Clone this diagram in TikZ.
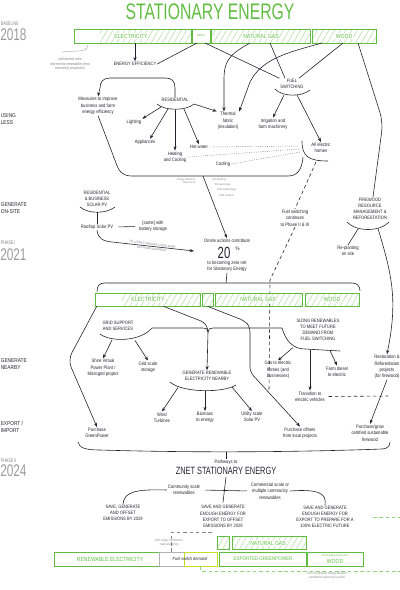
\documentclass[tikz,border=0pt]{standalone}
\usepackage{fontspec}
\setmainfont{Liberation Sans}[FakeStretch=0.85]
\newfontfamily\condfont{Liberation Sans}[FakeStretch=0.7]
\usetikzlibrary{arrows.meta,fit,patterns.meta}
\definecolor{znetgreen}{RGB}{97,189,66}
\definecolor{hatchgreen}{RGB}{165,218,145}
\definecolor{limegreen}{RGB}{196,222,40}
\definecolor{ink}{RGB}{35,35,48}
\definecolor{notegray}{RGB}{130,130,135}

\begin{document}
\begin{tikzpicture}[x=0.05cm, y=-0.05cm, color=ink, line width=0.85pt,
  lbl/.style={align=center, font=\fontsize{7}{9}\selectfont, inner sep=1pt},
  caps/.style={lbl, font=\fontsize{6.8}{8.8}\selectfont},
  note/.style={align=center, font=\fontsize{4.5}{5.4}\selectfont\itshape, text=notegray, inner sep=0.5pt},
  side/.style={anchor=west, align=left, font=\fontsize{8}{9.5}\selectfont, inner sep=0pt},
  year/.style={anchor=west, font=\condfont\fontsize{24}{24}\selectfont, text=notegray!80, inner sep=0pt},
  phase/.style={anchor=west, font=\condfont\fontsize{7.5}{8}\selectfont, text=notegray, inner sep=0pt},
  bar/.style={draw=znetgreen, line width=0.9pt, inner sep=0pt},
  hatch/.style={pattern={Lines[angle=60,distance=7pt,line width=0.6pt]}, pattern color=hatchgreen},
  bartext/.style={font=\fontsize{8.5}{9}\selectfont, text=znetgreen, fill=white, inner sep=1pt},
  arr/.style={-{Stealth[length=6pt,width=4.5pt]}},
  dots/.style={dotted, line width=0.6pt},
  dashline/.style={dash pattern=on 5pt off 4pt}]
\useasboundingbox (0,0) rectangle (400,590);

% title and phases
\node[font=\condfont\fontsize{32}{32}\selectfont, text=znetgreen, inner sep=0pt] (title) at (210,12) {STATIONARY ENERGY};
\node[phase] (base) at (0.5,24) {BASELINE};
\node[year] (y18) at (0,35) {2018};
\node[side] (useless) at (0.5,119) {USING\\LESS};
\node[side] (genon) at (0.5,208) {GENERATE\\ON-SITE};
\node[phase] (ph1) at (0.5,243) {PHASE I};
\node[year] (y21) at (0,255) {2021};
\node[side] (gennear) at (0.5,364) {GENERATE\\NEARBY};
\node[side] (expimp) at (0.5,427) {EXPORT /\\IMPORT};
\node[phase] (ph2) at (0.5,461) {PHASE II};
\node[year] (y24) at (0,471) {2024};

% baseline bar
\fill[hatch] (100,29) rectangle (191,43);
\fill[hatch] (211,29) rectangle (310,43);
\fill[hatch] (312,29) rectangle (376,43);
\node[bar, fit={(74,29) (191,43)}] (tElec) {};
\node[bar, fit={(192,29) (210,43)}] (tDiesel) {};
\node[bar, fit={(211,29) (310,43)}] (tGas) {};
\node[bar, fit={(312,29) (376,43)}] (tWood) {};
\node[bartext] (tElecL) at (131,36) {ELECTRICITY};
\node[bartext, font=\fontsize{4}{4}\selectfont] (tDieselL) at (tDiesel) {DIESEL};
\node[bartext] (tGasL) at (261,36) {NATURAL GAS};
\node[bartext] (tWoodL) at (344,36) {WOOD};
\node[note, font=\fontsize{5.5}{6.2}\selectfont\itshape] (unhatch) at (70,64) {Unhatched area\\represents renewable (zero\\emission) proportion};
\coordinate (uh) at (88,45);
\draw[notegray, line width=0.4pt] (uh) .. controls (87,50) and (84,51) .. (76,51) -- (62,52);

% using less
\node[caps] (effic) at (135,64) {ENERGY EFFICIENCY};
\node[lbl] (measures) at (98,106) {Measures to improve\\business and farm\\energy efficiency};
\node[caps] (res) at (175,100) {RESIDENTIAL};
\node[lbl] (light) at (134,122) {Lighting};
\node[lbl] (appl) at (145,142) {Appliances};
\node[lbl] (heat) at (175,157) {Heating\\and Cooling};
\node[lbl] (hot) at (199,147) {Hot water};
\node[lbl] (cooling) at (223,164) {Cooling};
\node[lbl] (thermal) at (228,121) {Thermal\\fabric\\(insulation)};
\node[caps] (fuelsw) at (292,84) {FUEL\\SWITCHING};
\node[lbl] (irrig) at (273,124) {Irrigation and\\farm machinery};
\node[lbl] (allelec) at (321,148) {All electric\\homes};
\node[caps] (firewood) at (370,209) {FIREWOOD\\RESOURCE\\MANAGEMENT \&\\REFORESTATION};

\coordinate (dL) at (197,43);
\coordinate (dR) at (205,43);
\coordinate (gL) at (250,43);
\coordinate (gR) at (270,43);
\coordinate (wA) at (322,43);
\coordinate (wB) at (343,43);
\coordinate (wC) at (358,43);
\draw[arr] (effic |- tElec.south) -- (effic.north);
\draw (dL) -- (effic.east);
\draw (dR) -- (fuelsw.north west);
\draw[arr] (gL) .. controls (228,55) and (224,62) .. (224,80) -- ([xshift=-0.2cm]thermal.north);
\draw[arr] (wA) .. controls (290,52) and (262,58) .. (250,82) -- (thermal.north east);
\draw (gR) -- ([xshift=-0.35cm]fuelsw.north);
\draw (wB) -- ([xshift=0.35cm]fuelsw.north);
\draw[rounded corners=0.5cm] (wC) -- (383,122) -- ([xshift=0.15cm]firewood.north);

\draw[arr] (res.north) -- (175,88) .. controls (175,81) and (172,78) .. (165,78) -- (110,78) .. controls (103,78) and (100,82) .. (100,88) -- (measures.north);
\draw (157,104) .. controls (165,111) and (186,111) .. (194,104);
\coordinate (rA) at (161,107);
\coordinate (rB) at (168,109);
\coordinate (rC) at (175,109.5);
\coordinate (rD) at (184,109);
\coordinate (rE) at (194,104);
\draw[arr] (rA) -- (light.north east);
\draw[arr] (rB) -- ([xshift=0.25cm]appl.north);
\draw[arr] (rC) -- (heat.north);
\draw[arr] (rD) -- (hot.north);
\draw[arr] (rE) -- (thermal.north west);

\draw (275,89) .. controls (282,97) and (302,97) .. (310,90);
\coordinate (fsA) at (284,95);
\coordinate (fsB) at (297,95);
\draw[arr] (fsA) -- (irrig.north);
\draw[arr] (fsB) -- (allelec.north);
\draw (302,141) .. controls (302,156) and (308,161) .. (328,161);

\coordinate (ae1) at (300,146);
\coordinate (ae2) at (300,149);
\coordinate (ae3) at (300,152);
\draw[dots] (hot.east) -- (ae1);
\draw[dots] (heat.east) -- (ae2);
\draw[dots] (cooling.east) -- (ae3);

\draw (measures.south) -- (116,163) .. controls (119,172) and (123,176) .. (132,176) -- (288,176) .. controls (297,176) and (302,170) .. (303,157);
\node[note, align=right, anchor=east, font=\fontsize{4}{4.8}\selectfont\itshape] (effnote) at (196,181) {Energy efficiency\\reduction of};
\foreach \pctline [count=\i] in {8\% electricity, 5\% natural gas, 12\% wood energy, 23\% of diesel}
  \node[note, anchor=west, font=\fontsize{4}{4.8}\selectfont\itshape] (pct\i) at (209.5+2.3*\i, 175+5*\i) {\pctline};

% generate on-site
\node[caps] (solar) at (97,199) {RESIDENTIAL\\\& BUSINESS\\SOLAR PV};
\draw (80,207) .. controls (88,214) and (106,214) .. (115,207);
\coordinate (solarArc) at (97,212.3);
\node[lbl] (rooftop) at (97,227) {Rooftop Solar PV};
\node[lbl] (battery) at (153,226.5) {[same] with\\battery storage};
\draw (solarArc) -- (rooftop.north);
\draw[shorten <=6pt, shorten >=4pt] (rooftop.east) -- (battery.west);
\coordinate (pvEnd) at (194,251);
\draw[arr] (rooftop.south) .. controls (98,238) and (102,241) .. (112,242) -- (pvEnd);
\node[note, rotate=-7, font=\fontsize{4.8}{6.6}\selectfont\itshape] (pvnote) at (152,246.5) {7\% of ZNET stationary energy target\\from onsite renewables};

\node[lbl] (onsite) at (227,241) {Onsite actions contribute};
\node[font=\condfont\fontsize{23}{23}\selectfont, inner sep=0pt] (twenty) at (224,252.5) {20};
\node[font=\fontsize{7.5}{7.5}\selectfont, inner sep=0pt] (pcent) at (237.5,249) {\%};
\node[lbl] (zeronet) at (227,266.5) {to becoming zero net\\for Stationary Energy};
\coordinate (uArrow) at (203,176);
\draw[arr] (uArrow) -- (onsite.north);

\node[lbl] (fuelcont) at (295,218) {Fuel switching\\continues\\to Phase II \& III};
\coordinate (aeBot) at (316,162);
\coordinate (fcEnd) at (269,392);
\draw[dashline] (aeBot) -- (fuelcont.north);
\draw[dashline] (fuelcont.south) -- (270,280) -- (fcEnd);

\draw (347,222) .. controls (356,232) and (380,232) .. (389,222);
\coordinate (fw1) at (358,229);
\coordinate (fw2) at (378,228.5);
\node[lbl] (replant) at (348,251) {Re-planting\\on site};
\draw (fw1) -- (replant.north);

% phase I bracket
\coordinate (b1tick) at (226,283);
\draw (97,292) .. controls (97,286) and (99,283) .. (105,283) -- (352,283) .. controls (357,283) and (360,286) .. (360,291);
\draw (zeronet.south) -- (b1tick);

% phase I bar
\fill[hatch] (122,293) rectangle (200,306);
\fill[hatch] (202,293) rectangle (213,306);
\fill[hatch] (215,293) rectangle (302,306);
\fill[hatch] (305,293) rectangle (359,306);
\node[bar, fit={(95,293) (200,306)}] (mElec) {};
\node[bar, fit={(202,293) (213,306)}] (mDiesel) {};
\node[bar, fit={(215,293) (302,306)}] (mGas) {};
\node[bar, fit={(305,293) (359,306)}] (mWood) {};
\node[bartext] (mElecL) at (148,299.5) {ELECTRICITY};
\node[bartext] (mGasL) at (258,299.5) {NATURAL GAS};
\node[bartext] (mWoodL) at (332,299.5) {WOOD};

% generate nearby
\node[caps] (grid) at (118,325.5) {GRID SUPPORT\\AND SERVICES};
\node[lbl] (vpp) at (103,368) {Shire Virtual\\Power Plant /\\Microgrid project};
\node[lbl] (gridstor) at (148,367) {Grid scale\\storage};
\node[caps] (genren) at (207,376) {GENERATE RENEWABLE\\ELECTRICITY NEARBY};
\node[lbl] (wind) at (162,417.5) {Wind\\Turbines};
\node[lbl] (biomass) at (205,417.5) {Biomass\\to energy};
\node[lbl] (utility) at (252,417) {Utility scale\\Solar PV};
\node[caps] (sizing) at (318,330) {SIZING RENEWABLES\\TO MEET FUTURE\\DEMAND FROM\\FUEL SWITCHING};
\node[lbl] (gastoelec) at (278,370) {Gas to electric\\homes (and\\businesses)};
\node[lbl] (ev) at (310,396.5) {Transition to\\electric vehicles};
\node[lbl] (farmdiesel) at (337,371.5) {Farm diesel\\to electric};
\node[lbl] (restor) at (387,367) {Restoration \&\\Reforestation\\projects\\(for firewood)};

\coordinate (junc) at (208,332);
\draw (100,334) .. controls (110,342) and (140,342) .. (152,328) -- (203,328) .. controls (206,328) and (208,329) .. (junc);
\draw (junc) .. controls (208,329) and (210,328) .. (213,328) -- (282,328) .. controls (286,342) and (294,349) .. (305,349) -- (340,351);
\draw ([xshift=0.8cm]mElec.south) -- (201,321) .. controls (205,323) and (208,327) .. (junc);
\draw[arr] (junc) -- (genren.north);
\coordinate (gA) at (112,340);
\coordinate (gB) at (135,340.5);
\draw[arr] (gA) -- (vpp.north);
\draw[arr] (gB) -- (gridstor.north);
\draw (170,382) .. controls (182,393) and (224,393) .. (236,385);
\coordinate (gr1) at (178,387.5);
\coordinate (gr2) at (205,390.5);
\coordinate (gr3) at (232,387);
\draw[arr] (gr1) -- (wind.north);
\draw[arr] (gr2) -- (biomass.north);
\draw[arr] (gr3) -- (utility.north);
\coordinate (s1) at (293,347.5);
\coordinate (s2) at (310,349.5);
\coordinate (s3) at (330,350.5);
\draw[arr] (s1) -- (gastoelec.north);
\draw[arr] (s2) -- (ev.north);
\draw[arr] (s3) -- (farmdiesel.north);
\coordinate (evEnd) at (388,396);
\draw[dashline, shorten <=4pt] (ev.east) -- (evEnd);
\draw[arr] (fw2) .. controls (392,275) and (398,300) .. (restor.north);

% export / import
\node[lbl] (greenpow) at (97,433) {Purchase\\GreenPower};
\node[lbl] (offsets) at (300,433) {Purchase offsets\\from local projects};
\node[lbl] (pgrow) at (370,433) {Purchase/grow\\certified sustainable\\firewood};
\draw[arr, rounded corners=0.4cm] ([xshift=0.1cm]mElec.south west) -- (68,360) -- (greenpow.north);
\draw[arr, rounded corners=0.25cm] (mDiesel.south) -- (245,321) -- (250,327) -- (250,372) -- (offsets.north);
\draw[arr] (restor.south) -- (pgrow.north);

% phase II bracket
\coordinate (b2tick) at (226,452);
\draw (78,442) .. controls (79,448) and (86,450) .. (100,450) .. controls (200,453) and (300,452) .. (382,449) .. controls (387,449) and (390,446) .. (390,442);
\node[lbl] (pathways) at (226,462) {Pathways to};
\draw (b2tick) -- (pathways.north);
\node[font=\condfont\fontsize{15}{15}\selectfont, inner sep=0pt] (znet) at (226,471) {ZNET STATIONARY ENERGY};
\node[lbl] (community) at (184,490) {Community scale\\renewables};
\node[lbl] (commercial) at (270,491) {Commercial scale or\\multiple community\\renewables};
\node[caps] (sgoff) at (123,513) {SAVE, GENERATE\\AND OFFSET\\EMISSIONS BY 2029};
\node[caps] (sgexp) at (223,516.5) {SAVE AND GENERATE\\ENOUGH ENERGY FOR\\EXPORT TO OFFSET\\EMISSIONS BY 2029};
\node[caps] (sgelec) at (325,517) {SAVE AND GENERATE\\ENOUGH ENERGY FOR\\EXPORT TO PREPARE FOR A\\100\% ELECTRIC FUTURE};
\draw ([yshift=-0.1cm]znet.south) -- ([yshift=0.1cm]sgexp.north);
\draw[shorten <=6pt, shorten >=4pt] (community.east) -- (commercial.west);
\draw (community.west) .. controls (135,489) and (124,492) .. (sgoff.north);
\draw (commercial.east) .. controls (318,489) and (327,493) .. (sgelec.north);

% 2024 bars
\fill[hatch] (217,536) rectangle (229,549);
\fill[hatch] (232,536) rectangle (306,549);
\node[bar, fit={(217,536) (229,549)}] (bGasSym) {};
\node[bar, fit={(232,536) (306,549)}] (bGas) {};
\node[bartext] (bGasL) at (268,543) {NATURAL GAS};
\node[bar, line width=1.2pt, fit={(54,552) (159,566)}] (bRenew) {};
\node[bar, draw=gray!60, fit={(159,552) (184,566)}] (bSwitch) {};
\node[bar, draw=limegreen, line width=1.2pt, fit={(184,552) (217,566)}] (bDemand) {};
\node[bar, fit={(219,552) (306,566)}] (bExport) {};
\node[bar, fit={(307,552) (363,566)}] (bWood) {};
\node[bartext] (bRenewL) at (110,559) {RENEWABLE ELECTRICITY};
\node[font=\fontsize{6.5}{6.5}\selectfont\itshape, inner sep=0pt] (demandL) at (190,559) {Fuel switch demand};
\node[bartext, font=\fontsize{7.5}{8}\selectfont] (bExportL) at (263,559) {EXPORTED GREENPOWER};
\node[bartext, font=\fontsize{3.5}{3.5}\selectfont] (bWoodS) at (335,555.5) {SUSTAINABLE SOURCE OF};
\node[bartext, inner sep=0pt] (bWoodL) at (335,561.5) {WOOD};

\node[note] (gasnote) at (169,542.5) {20\% of gas switched to\\clean electricity};
\node[note] (trnote) at (327,576) {21\% of transport energy demand\\switched to electricity by 2029};
\coordinate (gasCut) at (212,532);
\coordinate (grEnd) at (400,571);
\coordinate (gd1) at (373,517);
\coordinate (gd2) at (400,517);
\draw[notegray, dashline, line width=0.4pt] (gasCut) -- (gasCut -| bSwitch.north) -- (bSwitch.north);
\draw[znetgreen!70, dashline, line width=0.6pt] (bDemand.south) -- (bDemand.south |- grEnd) -- (grEnd);
\draw[znetgreen!70, dashline, line width=0.6pt] (gd1) -- (gd2);
\end{tikzpicture}
\end{document}
